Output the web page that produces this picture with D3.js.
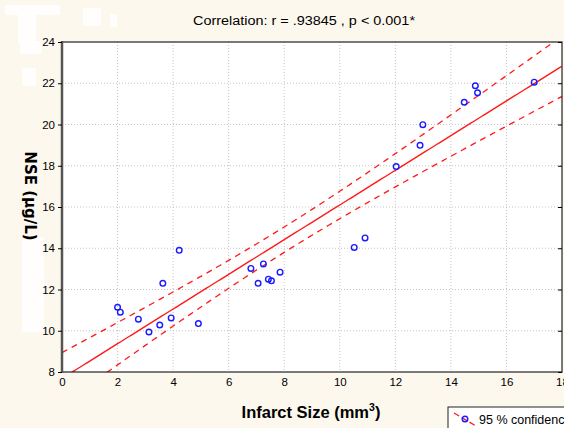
<!DOCTYPE html>
<html>
<head>
<meta charset="utf-8">
<script src="https://cdn.jsdelivr.net/npm/d3@7"></script>
<style>
  body { margin: 0; background: #fdf8ee; }
  svg { display: block; font-family: "Liberation Sans", Arial, sans-serif; }
</style>
</head>
<body>
<div id="graph"></div>
<script>
// data
var infarctSize = [2.0, 2.1, 2.75, 3.13, 3.52, 3.63, 3.93, 4.22, 4.91,
                   6.8, 7.06, 7.25, 7.43, 7.54, 7.85, 10.52, 10.91,
                   12.03, 12.89, 12.99, 14.48, 14.88, 14.96, 17.0];
var nse = [11.14, 10.9, 10.56, 9.94, 10.28, 12.3, 10.62, 13.9, 10.35,
           13.02, 12.3, 13.24, 12.5, 12.42, 12.84, 14.04, 14.5,
           17.96, 18.99, 19.99, 21.08, 21.88, 21.54, 22.05];
var xTicks = [0, 2, 4, 6, 8, 10, 12, 14, 16, 18];
var yTicks = [8, 10, 12, 14, 16, 18, 20, 22, 24];
var title = "Correlation: r = .93845 , p < 0.001*";
var xLabel = "Infarct Size (mm";
var yLabel = "NSE (µg/L)";
var legendText = "95 % confidence";

var W = 564, H = 428;
var margin = {top: 42, right: 2, bottom: 56, left: 62},
    width = W - margin.left - margin.right,
    height = H - margin.top - margin.bottom;

var svg = d3.select("#graph").append("svg")
    .attr("width", W)
    .attr("height", H);

svg.append("rect").attr("width", W).attr("height", H).attr("fill", "#fdf8ee");

// faint white patches left over in the top-left corner
[[5, 5, 55, 10], [18, 15, 18, 28], [83, 8, 18, 18], [110, 14, 7, 13],
 [20, 41, 22, 13], [22, 68, 14, 18], [22, 237, 22, 95]].forEach(function(r) {
  svg.append("rect").attr("x", r[0]).attr("y", r[1]).attr("width", r[2]).attr("height", r[3])
     .attr("fill", "#ffffff").attr("opacity", 0.8);
});

var g = svg.append("g")
    .attr("transform", "translate(" + margin.left + "," + margin.top + ")");

var x = d3.scaleLinear().domain([0, 18]).range([0, width]);
var y = d3.scaleLinear().domain([8, 24]).range([height, 0]);

g.append("rect").attr("width", width).attr("height", height).attr("fill", "#ffffff");

// grid
g.append("g").selectAll("line").data(xTicks.slice(1, -1)).enter().append("line")
    .attr("x1", function(d) { return x(d); }).attr("x2", function(d) { return x(d); })
    .attr("y1", 0).attr("y2", height)
    .attr("stroke", "#c4c4c4").attr("stroke-dasharray", "1,2");
g.append("g").selectAll("line").data(yTicks.slice(1, -1)).enter().append("line")
    .attr("y1", function(d) { return y(d); }).attr("y2", function(d) { return y(d); })
    .attr("x1", 0).attr("x2", width)
    .attr("stroke", "#c4c4c4").attr("stroke-dasharray", "1,2");

// regression and 95% confidence bands
var n = infarctSize.length;
var mx = d3.mean(infarctSize), my = d3.mean(nse);
var sxx = d3.sum(infarctSize, function(d) { return (d - mx) * (d - mx); });
var sxy = d3.sum(infarctSize, function(d, i) { return (d - mx) * (nse[i] - my); });
var b = sxy / sxx, a = my - b * mx;
var sse = d3.sum(infarctSize, function(d, i) { var e = nse[i] - (a + b * d); return e * e; });
var s = Math.sqrt(sse / (n - 2));
var t = 2.074;
var xs = d3.range(0, 18.01, 0.1);
function band(sign) {
  return xs.map(function(v) {
    var yh = a + b * v;
    return [v, yh + sign * t * s * Math.sqrt(1 / n + (v - mx) * (v - mx) / sxx)];
  });
}

g.append("clipPath").attr("id", "clip").append("rect")
    .attr("width", width).attr("height", height);
var plot = g.append("g").attr("clip-path", "url(#clip)");
var line = d3.line().x(function(d) { return x(d[0]); }).y(function(d) { return y(d[1]); });

plot.append("path").datum(band(1)).attr("d", line)
    .attr("fill", "none").attr("stroke", "#ff1a1a").attr("stroke-width", 1.3)
    .attr("stroke-dasharray", "6,5");
plot.append("path").datum(band(-1)).attr("d", line)
    .attr("fill", "none").attr("stroke", "#ff1a1a").attr("stroke-width", 1.3)
    .attr("stroke-dasharray", "6,5");
plot.append("path").datum(xs.map(function(v) { return [v, a + b * v]; })).attr("d", line)
    .attr("fill", "none").attr("stroke", "#ff1a1a").attr("stroke-width", 1.4);

// points
plot.selectAll(".pt").data(infarctSize).enter().append("circle")
    .attr("class", "pt")
    .attr("cx", function(d) { return x(d); })
    .attr("cy", function(d, i) { return y(nse[i]); })
    .attr("r", 2.8)
    .attr("fill", "none").attr("stroke", "#1a1aff").attr("stroke-width", 1.4);

// frame
g.append("rect").attr("width", width).attr("height", height)
    .attr("fill", "none").attr("stroke", "#222").attr("stroke-width", 1.2);
g.append("line").attr("x1", 0).attr("x2", 0).attr("y1", -1).attr("y2", height + 1)
    .attr("stroke", "#555").attr("stroke-width", 2.5);

// axes
var yAxis = g.append("g").call(d3.axisLeft(y).tickValues(yTicks).tickSize(4).tickPadding(3));
yAxis.select(".domain").remove();
yAxis.selectAll("text").attr("font-size", 11.5).attr("fill", "#000")
    .attr("font-family", "Liberation Sans, Arial, sans-serif");
var yAxisR = g.append("g").attr("transform", "translate(" + width + ",0)")
    .call(d3.axisLeft(y).tickValues(yTicks).tickSize(4).tickFormat(""));
yAxisR.select(".domain").remove();

var xAxis = g.append("g").attr("transform", "translate(0," + height + ")")
    .call(d3.axisBottom(x).tickValues(xTicks).tickSize(0).tickPadding(6));
xAxis.select(".domain").remove();
xAxis.selectAll("text").attr("font-size", 11.5).attr("fill", "#000")
    .attr("font-family", "Liberation Sans, Arial, sans-serif");

// title and labels
svg.append("text").attr("x", 304).attr("y", 25).attr("text-anchor", "middle")
    .attr("font-size", 12).attr("textLength", 222).attr("lengthAdjust", "spacingAndGlyphs")
    .text(title);

var xl = svg.append("text").attr("x", 311).attr("y", 418).attr("text-anchor", "middle")
    .attr("font-size", 16.5).attr("font-weight", "bold").text(xLabel);
xl.append("tspan").attr("font-size", 10.5).attr("dy", -7).text("3");
xl.append("tspan").attr("dy", 7).text(")");

svg.append("text")
    .attr("transform", "translate(25,196) rotate(90)")
    .attr("text-anchor", "middle").attr("font-size", 15).attr("font-weight", "bold")
    .attr("font-family", "DejaVu Sans, sans-serif")
    .text(yLabel);

// legend
var lg = svg.append("g").attr("transform", "translate(448,407)");
lg.append("rect").attr("width", 140).attr("height", 40)
    .attr("fill", "#ffffff").attr("stroke", "#222").attr("stroke-width", 1);
lg.append("line").attr("x1", 6).attr("y1", 6).attr("x2", 28).attr("y2", 19)
    .attr("stroke", "#ff1a1a").attr("stroke-width", 1.3).attr("stroke-dasharray", "6,3");
lg.append("circle").attr("cx", 17).attr("cy", 12).attr("r", 2.8)
    .attr("fill", "none").attr("stroke", "#1a1aff").attr("stroke-width", 1.4);
lg.append("text").attr("x", 31).attr("y", 17).attr("font-size", 12.5).text(legendText);
</script>
</body>
</html>
